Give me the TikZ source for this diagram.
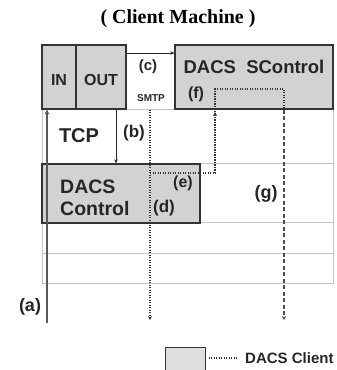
\documentclass[tikz,border=0pt]{standalone}
\usepackage{fontspec}
\setmainfont{Liberation Sans}
\newfontfamily\titlefont{Liberation Serif}
\usetikzlibrary{arrows.meta}
\newcommand\fsz[1]{\fontsize{#1}{#1}\selectfont}
\definecolor{boxfill}{HTML}{D2D2D2}
\definecolor{boxline}{HTML}{333333}
\definecolor{gridc}{HTML}{C4C4C4}
\tikzset{
  box/.style={draw=boxline, line width=1.3pt, fill=boxfill, inner sep=0pt},
  lbl/.style={font=\bfseries, text=black!85, inner sep=0pt},
  gridline/.style={draw=gridc, line width=0.7pt},
  solidarrow/.style={draw=black!85, line width=0.8pt, -{Stealth[length=4pt,width=3.5pt]}},
  dotline/.style={draw=black!80, line width=1.3pt, dash pattern=on 1.2pt off 1.3pt},
  dashline/.style={draw=black!70, line width=1.7pt, dash pattern=on 4pt off 2.5pt},
  tip/.style={-{Stealth[length=4pt,width=4pt]}}
}
\begin{document}
\begin{tikzpicture}[x=1pt,y=-1pt]
\useasboundingbox (0,0) rectangle (337,370);
% title
\node[inner sep=0pt, font=\titlefont\bfseries\fsz{20}] (title) at (178,19) {( Client Machine )};
% grid
\draw[gridline] (42,109) rectangle (333,283);
\draw[gridline] (42,163) -- (333,163);
\draw[gridline] (42,222) -- (333,222);
\draw[gridline] (42,253) -- (333,253);
% boxes
\node[box, minimum width=84pt, minimum height=64pt] (inout) at (84,77) {};
\draw[draw=boxline, line width=1.3pt] (inout.north -| 76,0) coordinate (dv1) -- (inout.south -| 76,0) coordinate (dv2);
\node[box, minimum width=158pt, minimum height=64pt] (sctl) at (254,77) {};
\node[box, minimum width=158pt, minimum height=59pt] (dctl) at (121,193.5) {};
% texts
\node[lbl, font=\bfseries\fsz{16}] (in) at (59,80) {IN};
\node[lbl, font=\bfseries\fsz{16}] (out) at (101,80) {OUT};
\node[lbl, font=\bfseries\fsz{15}] (c) at (148,67) {(c)};
\node[lbl, font=\bfseries\fsz{10}] (smtp) at (151,98) {SMTP};
\node[lbl, font=\bfseries\fsz{18.5}] (sctltxt) at (254,67) {DACS\ \ SControl};
\node[lbl, font=\bfseries\fsz{16}] (f) at (196,94) {(f)};
\node[lbl, font=\bfseries\fsz{20}] (tcp) at (79,136) {TCP};
\node[lbl, font=\bfseries\fsz{17}] (b) at (134,133) {(b)};
\node[lbl, font=\bfseries\fsz{19.5}, align=left, anchor=west] (dctltxt) at (60,198) {DACS\\[3pt]Control};
\node[lbl, font=\bfseries\fsz{16}] (e) at (183,183) {(e)};
\node[lbl, font=\bfseries\fsz{17}] (d) at (164,208) {(d)};
\node[lbl, font=\bfseries\fsz{18}] (g) at (266,194) {(g)};
\node[lbl, font=\bfseries\fsz{18}] (a) at (30,307) {(a)};
% connectors
\coordinate (abot) at (47,323);
\draw[draw=black!65, line width=2.2pt, -{Stealth[length=5pt,width=5pt]}] (abot) -- (abot |- inout.south);
\draw[solidarrow] (inout.south -| 116,0) -- (dctl.north -| 116,0);
\draw[solidarrow] (inout.north east |- 0,53) -- (sctl.west |- 0,53);
\coordinate (smtpbot) at (150,320);
\draw[dotline, tip] (smtpbot |- inout.south) -- (smtpbot);
\coordinate (estart) at (150,173);
\draw[dotline, tip] (estart) -- (215,173) -- (215,112);
\coordinate (gbot) at (284,320);
\draw[dotline] (215,112) -- (215,89) -- (284,89) -- (gbot |- sctl.south);
\draw[dashline, tip] (gbot |- sctl.south) -- (gbot);
% legend
\node[box, fill=boxfill!70, line width=1pt, minimum width=40pt, minimum height=24pt] (legbox) at (185,359) {};
\coordinate (legend) at (237,358);
\draw[dotline] (legbox.east |- legend) ++(3pt,0) -- (legend);
\node[lbl, font=\bfseries\fsz{15}, anchor=west] (legtxt) at (245,358) {DACS Client};
\end{tikzpicture}
\end{document}
